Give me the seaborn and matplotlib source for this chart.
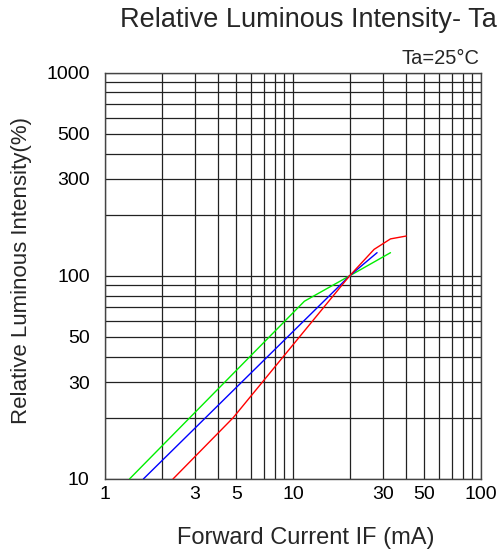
import pandas as pd
import matplotlib
matplotlib.use('Agg')
import matplotlib.pyplot as plt
import seaborn as sns

# curve values (forward current in mA, relative intensity in %)
green_if = [1.35, 11.5, 20, 33]
green_iv = [10, 75, 100, 130]

blue_if = [1.6, 20, 28]
blue_iv = [10, 100, 130]

red_if = [2.3, 4.8, 20, 27, 33, 40]
red_iv = [10, 20, 100, 135, 152, 157]

x_ticks = [1, 3, 5, 10, 30, 50, 100]
y_ticks = [10, 30, 50, 100, 300, 500, 1000]

sns.set_style('white')
plt.rcParams['font.family'] = ['Liberation Sans', 'DejaVu Sans']

fig = plt.figure(figsize=(5.03, 5.54), dpi=100)
ax = fig.add_axes([0.2087, 0.1354, 0.7476, 0.7334])

df_g = pd.DataFrame({'IF': green_if, 'IV': green_iv})
df_b = pd.DataFrame({'IF': blue_if, 'IV': blue_iv})
df_r = pd.DataFrame({'IF': red_if, 'IV': red_iv})

sns.lineplot(data=df_g, x='IF', y='IV', color='#00ee00', lw=1.0, sort=False, ax=ax, zorder=3)
sns.lineplot(data=df_b, x='IF', y='IV', color='#0000ff', lw=1.0, sort=False, ax=ax, zorder=3)
sns.lineplot(data=df_r, x='IF', y='IV', color='#ff0000', lw=1.0, sort=False, ax=ax, zorder=3)

ax.set_xscale('log')
ax.set_yscale('log')
ax.set_xlim(1, 100)
ax.set_ylim(10, 1000)

# grid lines at every 1-9 step of each decade
grid_x = [m * d for d in (1, 10) for m in range(1, 10)] + [100]
grid_y = [m * d for d in (10, 100) for m in range(1, 10)] + [1000]
for gx in grid_x:
    ax.axvline(gx, color='#222222', lw=0.9, zorder=1)
for gy in grid_y:
    ax.axhline(gy, color='#222222', lw=0.9, zorder=1)

ax.set_xticks(x_ticks)
ax.set_xticklabels([str(t) for t in x_ticks])
ax.set_yticks(y_ticks)
ax.set_yticklabels([str(t) for t in y_ticks])
ax.minorticks_off()
ax.tick_params(axis='both', length=0, labelsize=14, colors='black')
ax.tick_params(axis='x', pad=5)
ax.tick_params(axis='y', pad=11)

for s in ax.spines.values():
    s.set_color('#444444')
    s.set_linewidth(1.0)

ax.set_xlabel('Forward Current IF (mA)', fontsize=17, va='center')
ax.xaxis.set_label_coords(0.535, -0.145)
ax.set_ylabel('Relative Luminous Intensity(%)', fontsize=16, va='center')
ax.yaxis.set_label_coords(-0.221, 0.514)

fig.text(0.988, 0.964, 'Relative Luminous Intensity- Ta', fontsize=19.5, ha='right', va='center')
fig.text(0.954, 0.895, 'Ta=25°C', fontsize=14.5, ha='right', va='center')

plt.savefig('out.png', dpi=100)
